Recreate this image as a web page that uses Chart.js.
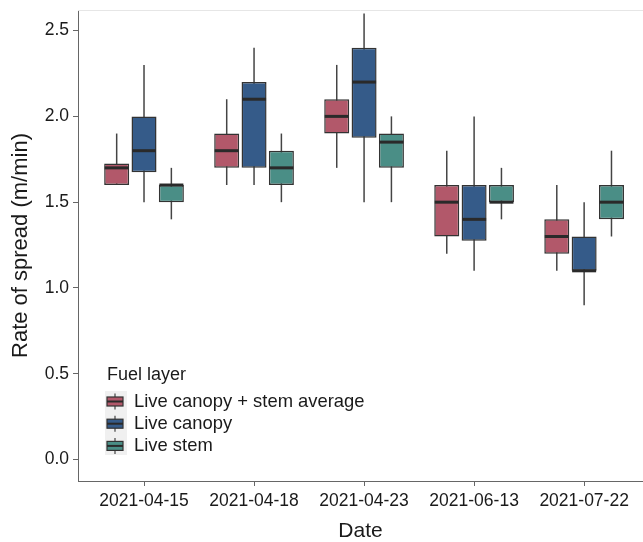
<!DOCTYPE html>
<html>
<head>
<meta charset="utf-8">
<script src="https://cdn.jsdelivr.net/npm/chart.js@4.4.1/dist/chart.umd.min.js"></script>
<style>
  html, body { margin: 0; padding: 0; background: #fff; }
  #wrap { width: 643px; height: 542px; }
</style>
</head>
<body>
<div id="wrap"><canvas id="myChart"></canvas></div>
<script>
// dates on the x axis
var dates = ["2021-04-15", "2021-04-18", "2021-04-23", "2021-06-13", "2021-07-22"];
var layers = ["Live canopy + stem average", "Live canopy", "Live stem"];
var colors = ["#b2586a", "#355b89", "#4a8e86"];

// box stats per layer: lower whisker, q1, median, q3, upper whisker
var avgLow = [1.6, 1.6, 1.7, 1.2, 1.1];
var avgQ1 = [1.6, 1.7, 1.9, 1.3, 1.2];
var avgMed = [1.7, 1.8, 2.0, 1.5, 1.3];
var avgQ3 = [1.725, 1.9, 2.1, 1.6, 1.4];
var avgHigh = [1.9, 2.1, 2.3, 1.8, 1.6];

var canopyLow = [1.5, 1.6, 1.5, 1.1, 0.9];
var canopyQ1 = [1.675, 1.7, 1.875, 1.275, 1.1];
var canopyMed = [1.8, 2.1, 2.2, 1.4, 1.1];
var canopyQ3 = [2.0, 2.2, 2.4, 1.6, 1.3];
var canopyHigh = [2.3, 2.4, 2.6, 2.0, 1.5];

var stemLow = [1.4, 1.5, 1.5, 1.4, 1.3];
var stemQ1 = [1.5, 1.6, 1.7, 1.5, 1.4];
var stemMed = [1.6, 1.7, 1.85, 1.5, 1.5];
var stemQ3 = [1.6, 1.8, 1.9, 1.6, 1.6];
var stemHigh = [1.7, 1.9, 2.0, 1.7, 1.8];

var FONT = "'Liberation Sans', Arial, sans-serif";
Chart.defaults.font.family = FONT;
Chart.defaults.color = "#1a1a1a";

function makeSet(label, color, low, q1, med, q3, high) {
    var pts = [];
    for (var i = 0; i < dates.length; i++) {
        pts.push({ x: i, y: [q1[i], q3[i]] });
    }
    return {
        label: label,
        data: pts,
        low: low,
        med: med,
        high: high,
        backgroundColor: color,
        borderColor: "#333333",
        borderWidth: 1.5,
        borderSkipped: false,
        categoryPercentage: 0.7455,
        barPercentage: 0.915
    };
}

// whiskers, medians, top border and legend
var boxPlot = {
    id: "boxPlot",
    beforeDatasetsDraw: function (chart) {
        var ctx = chart.ctx, y = chart.scales.y;
        ctx.save();
        ctx.strokeStyle = "#444";
        ctx.lineWidth = 1.5;
        chart.data.datasets.forEach(function (ds, d) {
            chart.getDatasetMeta(d).data.forEach(function (bar, i) {
                ctx.beginPath();
                ctx.moveTo(bar.x, y.getPixelForValue(ds.low[i]));
                ctx.lineTo(bar.x, y.getPixelForValue(ds.high[i]));
                ctx.stroke();
            });
        });
        ctx.restore();
    },
    afterDatasetsDraw: function (chart) {
        var ctx = chart.ctx, y = chart.scales.y;
        ctx.save();
        ctx.strokeStyle = "#2a2a2a";
        ctx.lineWidth = 3;
        chart.data.datasets.forEach(function (ds, d) {
            chart.getDatasetMeta(d).data.forEach(function (bar, i) {
                var yy = y.getPixelForValue(ds.med[i]);
                ctx.beginPath();
                ctx.moveTo(bar.x - bar.width / 2 + 0.5, yy);
                ctx.lineTo(bar.x + bar.width / 2 - 0.5, yy);
                ctx.stroke();
            });
        });
        ctx.restore();
    },
    afterDraw: function (chart) {
        var ctx = chart.ctx, a = chart.chartArea;
        ctx.save();
        // light panel top line
        ctx.strokeStyle = "#e6e6e6";
        ctx.lineWidth = 1;
        ctx.beginPath();
        ctx.moveTo(a.left, a.top + 0.5);
        ctx.lineTo(a.right, a.top + 0.5);
        ctx.stroke();

        // legend
        var lx = a.left + 29;
        ctx.fillStyle = "#1a1a1a";
        ctx.font = "18px " + FONT;
        ctx.textBaseline = "middle";
        ctx.textAlign = "left";
        ctx.fillText("Fuel layer", lx, 375);

        ctx.fillStyle = "#f0f0f0";
        ctx.fillRect(lx - 2, 391, 22, 64);
        chart.data.datasets.forEach(function (ds, d) {
            var cy = 401.5 + d * 22.2;
            ctx.strokeStyle = "#444";
            ctx.lineWidth = 1.2;
            ctx.beginPath();
            ctx.moveTo(lx + 8, cy - 8);
            ctx.lineTo(lx + 8, cy + 8);
            ctx.stroke();
            ctx.fillStyle = ds.backgroundColor;
            ctx.fillRect(lx, cy - 4.5, 16, 9);
            ctx.strokeStyle = "#333";
            ctx.strokeRect(lx, cy - 4.5, 16, 9);
            ctx.strokeStyle = "#2a2a2a";
            ctx.lineWidth = 2;
            ctx.beginPath();
            ctx.moveTo(lx, cy);
            ctx.lineTo(lx + 16, cy);
            ctx.stroke();
            ctx.fillStyle = "#1a1a1a";
            ctx.font = "18.4px " + FONT;
            ctx.fillText(ds.label, lx + 27, cy + 0.5);
        });
        ctx.restore();
    }
};

var chart = new Chart(document.getElementById("myChart").getContext("2d"), {
    type: "bar",
    data: {
        datasets: [
            makeSet(layers[0], colors[0], avgLow, avgQ1, avgMed, avgQ3, avgHigh),
            makeSet(layers[1], colors[1], canopyLow, canopyQ1, canopyMed, canopyQ3, canopyHigh),
            makeSet(layers[2], colors[2], stemLow, stemQ1, stemMed, stemQ3, stemHigh)
        ]
    },
    options: {
        responsive: true,
        maintainAspectRatio: false,
        animation: false,
        layout: { padding: { top: 10, left: 0, right: 0, bottom: 0 } },
        plugins: {
            legend: { display: false },
            tooltip: { enabled: false }
        },
        scales: {
            x: {
                type: "linear",
                offset: false,
                min: -0.6,
                max: 4.535,
                grid: { drawOnChartArea: false, tickLength: 5, color: "#666", offset: false },
                border: { color: "#666", width: 1 },
                ticks: {
                    stepSize: 1,
                    includeBounds: false,
                    padding: 5,
                    maxRotation: 0,
                    autoSkip: false,
                    font: { size: 17.5 },
                    callback: function (v) { return dates[v] !== undefined ? dates[v] : ""; }
                },
                title: {
                    display: true,
                    text: "Date",
                    font: { size: 21, lineHeight: 1.0 },
                    padding: { top: 0, bottom: 0 }
                },
                afterFit: function (s) {
                    s.height = 61;
                    s.paddingLeft = 0;
                    s.paddingRight = 0;
                }
            },
            y: {
                min: -0.125,
                max: 2.62,
                grid: { drawOnChartArea: false, tickLength: 5, color: "#666" },
                border: { color: "#666", width: 1 },
                ticks: {
                    stepSize: 0.5,
                    includeBounds: false,
                    padding: 4,
                    font: { size: 17.5 },
                    callback: function (v) { return v.toFixed(1); }
                },
                title: {
                    display: true,
                    text: "Rate of spread (m/min)",
                    font: { size: 22 },
                    padding: { top: 8, bottom: 0 }
                },
                afterFit: function (s) {
                    s.width = 78;
                    s.paddingTop = 0;
                    s.paddingBottom = 0;
                }
            }
        }
    },
    plugins: [boxPlot]
});
</script>
</body>
</html>
